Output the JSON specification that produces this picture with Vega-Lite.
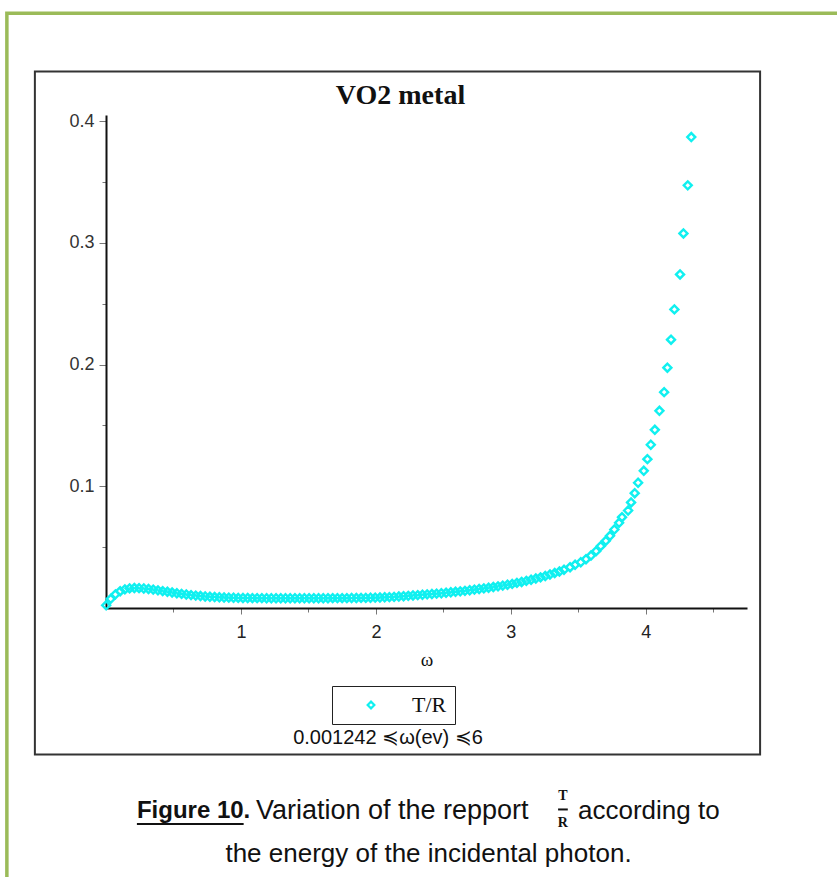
{
  "$schema": "https://vega.github.io/schema/vega-lite/v6.json",
  "width": 641,
  "height": 493,
  "autosize": {"type": "none"},
  "padding": {"left": 106, "top": 115, "right": 90, "bottom": 269},
  "background": "white",
  "config": {
    "view": {"stroke": null},
    "axis": {"grid": false}
  },
  "layer": [
    {
      "data": {"values": [{}]},
      "mark": {"type": "rect", "fill": null, "stroke": "#9BBB59", "strokeWidth": 3.5},
      "encoding": {
        "x": {"datum": -0.7346, "type": "quantitative"},
        "x2": {"datum": 6.0},
        "y": {"datum": 0.4885, "type": "quantitative"},
        "y2": {"datum": -1.0}
      }
    },
    {
      "data": {"values": [{}]},
      "mark": {"type": "rect", "fill": null, "stroke": "#333", "strokeWidth": 2},
      "encoding": {
        "x": {"datum": -0.527, "type": "quantitative"},
        "x2": {"datum": 4.847},
        "y": {"datum": 0.4408, "type": "quantitative"},
        "y2": {"datum": -0.1204}
      }
    },
    {
      "data": {"values": [
        {"w": 0.0012, "tr": 0.0022}, {"w": 0.035, "tr": 0.0075}, {"w": 0.07, "tr": 0.0112}, {"w": 0.105, "tr": 0.0138},
        {"w": 0.14, "tr": 0.0153}, {"w": 0.175, "tr": 0.0161}, {"w": 0.21, "tr": 0.0164}, {"w": 0.245, "tr": 0.0163},
        {"w": 0.28, "tr": 0.016}, {"w": 0.315, "tr": 0.0156}, {"w": 0.35, "tr": 0.0151}, {"w": 0.385, "tr": 0.0145},
        {"w": 0.42, "tr": 0.0139}, {"w": 0.455, "tr": 0.0133}, {"w": 0.49, "tr": 0.0127}, {"w": 0.525, "tr": 0.0121},
        {"w": 0.56, "tr": 0.0116}, {"w": 0.595, "tr": 0.0111}, {"w": 0.63, "tr": 0.0106}, {"w": 0.665, "tr": 0.0102},
        {"w": 0.7, "tr": 0.0098}, {"w": 0.735, "tr": 0.0095}, {"w": 0.77, "tr": 0.0092}, {"w": 0.805, "tr": 0.009},
        {"w": 0.84, "tr": 0.0088}, {"w": 0.875, "tr": 0.0086}, {"w": 0.91, "tr": 0.0085}, {"w": 0.945, "tr": 0.0084},
        {"w": 0.98, "tr": 0.0083}, {"w": 1.015, "tr": 0.0082}, {"w": 1.05, "tr": 0.0082}, {"w": 1.085, "tr": 0.0081},
        {"w": 1.12, "tr": 0.0081}, {"w": 1.155, "tr": 0.0081}, {"w": 1.19, "tr": 0.008}, {"w": 1.225, "tr": 0.008},
        {"w": 1.26, "tr": 0.008}, {"w": 1.295, "tr": 0.008}, {"w": 1.33, "tr": 0.008}, {"w": 1.365, "tr": 0.008},
        {"w": 1.4, "tr": 0.008}, {"w": 1.435, "tr": 0.008}, {"w": 1.47, "tr": 0.008}, {"w": 1.505, "tr": 0.008},
        {"w": 1.54, "tr": 0.008}, {"w": 1.575, "tr": 0.008}, {"w": 1.61, "tr": 0.008}, {"w": 1.645, "tr": 0.008},
        {"w": 1.68, "tr": 0.0081}, {"w": 1.715, "tr": 0.0081}, {"w": 1.75, "tr": 0.0081}, {"w": 1.785, "tr": 0.0081},
        {"w": 1.82, "tr": 0.0082}, {"w": 1.855, "tr": 0.0082}, {"w": 1.89, "tr": 0.0083}, {"w": 1.925, "tr": 0.0083},
        {"w": 1.96, "tr": 0.0084}, {"w": 1.995, "tr": 0.0085}, {"w": 2.03, "tr": 0.0086}, {"w": 2.065, "tr": 0.0088},
        {"w": 2.1, "tr": 0.0089}, {"w": 2.135, "tr": 0.0091}, {"w": 2.17, "tr": 0.0094}, {"w": 2.205, "tr": 0.0097},
        {"w": 2.24, "tr": 0.01}, {"w": 2.275, "tr": 0.0103}, {"w": 2.31, "tr": 0.0106}, {"w": 2.345, "tr": 0.0109},
        {"w": 2.38, "tr": 0.0112}, {"w": 2.415, "tr": 0.0115}, {"w": 2.45, "tr": 0.0118}, {"w": 2.485, "tr": 0.0121},
        {"w": 2.52, "tr": 0.0125}, {"w": 2.555, "tr": 0.0129}, {"w": 2.59, "tr": 0.0133}, {"w": 2.625, "tr": 0.0137},
        {"w": 2.66, "tr": 0.0141}, {"w": 2.695, "tr": 0.0146}, {"w": 2.73, "tr": 0.0151}, {"w": 2.765, "tr": 0.0156},
        {"w": 2.8, "tr": 0.0161}, {"w": 2.835, "tr": 0.0166}, {"w": 2.87, "tr": 0.0172}, {"w": 2.905, "tr": 0.0178},
        {"w": 2.94, "tr": 0.0184}, {"w": 2.975, "tr": 0.0191}, {"w": 3.01, "tr": 0.0198}, {"w": 3.045, "tr": 0.0206},
        {"w": 3.08, "tr": 0.0214}, {"w": 3.115, "tr": 0.0223}, {"w": 3.15, "tr": 0.0232}, {"w": 3.185, "tr": 0.0242},
        {"w": 3.22, "tr": 0.0252}, {"w": 3.255, "tr": 0.0263}, {"w": 3.29, "tr": 0.0275}, {"w": 3.325, "tr": 0.0287},
        {"w": 3.36, "tr": 0.03}, {"w": 3.394, "tr": 0.0314}, {"w": 3.439, "tr": 0.0335}, {"w": 3.476, "tr": 0.0355},
        {"w": 3.518, "tr": 0.0376}, {"w": 3.557, "tr": 0.0401}, {"w": 3.594, "tr": 0.0431}, {"w": 3.632, "tr": 0.0467},
        {"w": 3.666, "tr": 0.0508}, {"w": 3.704, "tr": 0.0552}, {"w": 3.735, "tr": 0.0593}, {"w": 3.767, "tr": 0.0645},
        {"w": 3.802, "tr": 0.07}, {"w": 3.824, "tr": 0.0746}, {"w": 3.869, "tr": 0.0801}, {"w": 3.891, "tr": 0.0867},
        {"w": 3.918, "tr": 0.0943}, {"w": 3.943, "tr": 0.1029}, {"w": 3.985, "tr": 0.1127}, {"w": 4.012, "tr": 0.1223},
        {"w": 4.037, "tr": 0.1341}, {"w": 4.067, "tr": 0.1464}, {"w": 4.101, "tr": 0.162}, {"w": 4.136, "tr": 0.1773},
        {"w": 4.16, "tr": 0.1974}, {"w": 4.187, "tr": 0.2204}, {"w": 4.212, "tr": 0.2453}, {"w": 4.254, "tr": 0.274},
        {"w": 4.279, "tr": 0.3077}, {"w": 4.311, "tr": 0.3472}, {"w": 4.337, "tr": 0.3869}
      ]},
      "mark": {"type": "point", "shape": "diamond", "filled": false, "size": 64, "strokeWidth": 2.4, "opacity": 1},
      "encoding": {
        "x": {
          "field": "w", "type": "quantitative",
          "scale": {"domain": [0, 4.75], "nice": false, "zero": false},
          "axis": {
            "title": "ω",
            "titleFont": "Liberation Serif", "titleFontSize": 19, "titleFontWeight": "normal", "titleColor": "#111",
            "titleY": 51, "titleBaseline": "middle",
            "values": [0.5, 1, 1.5, 2, 2.5, 3, 3.5, 4, 4.5],
            "labelExpr": "round(datum.value*2) % 2 == 0 ? format(datum.value, 'd') : ''",
            "labelFont": "Liberation Sans", "labelFontSize": 18, "labelColor": "#222", "labelPadding": 9,
            "tickColor": "#777", "tickWidth": 1,
            "tickSize": {"condition": {"test": "round(datum.value*2) % 2 == 0", "value": 6}, "value": 4},
            "domainColor": "#111", "domainWidth": 2
          }
        },
        "y": {
          "field": "tr", "type": "quantitative",
          "scale": {"domain": [0, 0.405], "nice": false, "zero": false},
          "axis": {
            "title": "VO2 metal",
            "titleFont": "Liberation Serif", "titleFontSize": 28, "titleFontWeight": "bold", "titleColor": "#111",
            "titleAngle": 0, "titleX": 294, "titleY": -20, "titleAlign": "center", "titleBaseline": "middle",
            "values": [0.05, 0.1, 0.15, 0.2, 0.25, 0.3, 0.35, 0.4],
            "labelExpr": "round(datum.value*20) % 2 == 0 ? format(datum.value, '.1f') : ''",
            "labelFont": "Liberation Sans", "labelFontSize": 18, "labelColor": "#333", "labelPadding": 5,
            "tickColor": "#777", "tickWidth": 1,
            "tickSize": {"condition": {"test": "round(datum.value*20) % 2 == 0", "value": 7}, "value": 4},
            "domainColor": "#111", "domainWidth": 2
          }
        },
        "color": {
          "datum": "T/R", "type": "nominal",
          "scale": {"range": ["#10F0F0"]},
          "legend": {
            "title": null, "orient": "none", "legendX": 226, "legendY": 571,
            "strokeColor": "#222", "padding": 8,
            "symbolType": "diamond", "symbolSize": 45, "symbolStrokeWidth": 2.2, "symbolOffset": 20,
            "labelOffset": 30, "labelFont": "Liberation Serif", "labelFontSize": 22, "labelColor": "#111"
          }
        }
      }
    },
    {
      "data": {"values": [{}]},
      "mark": {"type": "text", "font": "Liberation Sans", "fontSize": 20, "color": "#111", "align": "center", "baseline": "middle"},
      "encoding": {
        "x": {"datum": 2.09, "type": "quantitative"},
        "y": {"datum": -0.1064, "type": "quantitative"},
        "text": {"value": "0.001242 ≼ω(ev) ≼6"}
      }
    },
    {
      "data": {"values": [{}]},
      "mark": {"type": "text", "font": "Liberation Sans", "fontSize": 24, "fontWeight": "bold", "color": "#111", "align": "left", "baseline": "middle"},
      "encoding": {
        "x": {"datum": 0.229, "type": "quantitative"},
        "y": {"datum": -0.1664, "type": "quantitative"},
        "text": {"value": "Figure 10."}
      }
    },
    {
      "data": {"values": [{}]},
      "mark": {"type": "rule", "color": "#111", "strokeWidth": 2},
      "encoding": {
        "x": {"datum": 0.229, "type": "quantitative"},
        "x2": {"datum": 1.02},
        "y": {"datum": -0.1775, "type": "quantitative"}
      }
    },
    {
      "data": {"values": [{}]},
      "mark": {"type": "text", "font": "Liberation Sans", "fontSize": 27, "color": "#111", "align": "left", "baseline": "middle"},
      "encoding": {
        "x": {"datum": 1.111, "type": "quantitative"},
        "y": {"datum": -0.1664, "type": "quantitative"},
        "text": {"value": "Variation of the repport"}
      }
    },
    {
      "data": {"values": [{}]},
      "mark": {"type": "text", "font": "Liberation Serif", "fontSize": 14, "fontWeight": "bold", "color": "#111", "align": "center", "baseline": "middle"},
      "encoding": {
        "x": {"datum": 3.386, "type": "quantitative"},
        "y": {"datum": -0.1541, "type": "quantitative"},
        "text": {"value": "T"}
      }
    },
    {
      "data": {"values": [{}]},
      "mark": {"type": "rule", "color": "#111", "strokeWidth": 2},
      "encoding": {
        "x": {"datum": 3.35, "type": "quantitative"},
        "x2": {"datum": 3.422},
        "y": {"datum": -0.1655, "type": "quantitative"}
      }
    },
    {
      "data": {"values": [{}]},
      "mark": {"type": "text", "font": "Liberation Serif", "fontSize": 14, "fontWeight": "bold", "color": "#111", "align": "center", "baseline": "middle"},
      "encoding": {
        "x": {"datum": 3.386, "type": "quantitative"},
        "y": {"datum": -0.1768, "type": "quantitative"},
        "text": {"value": "R"}
      }
    },
    {
      "data": {"values": [{}]},
      "mark": {"type": "text", "font": "Liberation Sans", "fontSize": 26, "color": "#111", "align": "left", "baseline": "middle"},
      "encoding": {
        "x": {"datum": 3.498, "type": "quantitative"},
        "y": {"datum": -0.1664, "type": "quantitative"},
        "text": {"value": "according to"}
      }
    },
    {
      "data": {"values": [{}]},
      "mark": {"type": "text", "font": "Liberation Sans", "fontSize": 26, "color": "#111", "align": "center", "baseline": "middle"},
      "encoding": {
        "x": {"datum": 2.39, "type": "quantitative"},
        "y": {"datum": -0.2017, "type": "quantitative"},
        "text": {"value": "the energy of the incidental photon."}
      }
    }
  ]
}
